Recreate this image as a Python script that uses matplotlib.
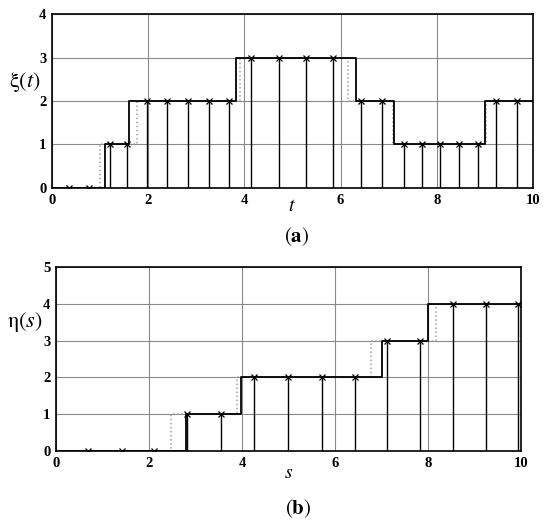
import matplotlib.pyplot as plt
import numpy as np

plt.rcParams['mathtext.fontset'] = 'stix'
plt.rcParams['font.family'] = 'Liberation Serif'

# (a) sampled process xi(t)
t_samp = [0.35, 0.78, 1.21, 1.57, 1.97, 2.40, 2.83, 3.26, 3.69, 4.13, 4.73,
          5.28, 5.85, 6.43, 6.86, 7.31, 7.69, 8.06, 8.47, 8.85, 9.24, 9.67]
xi_samp = [0, 0, 1, 1, 2, 2, 2, 2, 2, 3, 3, 3, 3, 2, 2, 1, 1, 1, 1, 1, 2, 2]
t_jump = [0, 1.11, 1.61, 3.82, 6.32, 7.12, 9.01, 10]
t_jump_est = [0, 0.99, 1.76, 3.91, 6.15, 7.08, 9.03, 10]
xi_lev = [0, 1, 2, 3, 2, 1, 2, 2]

# (b) sampled process eta(s)
s_samp = [0.69, 1.41, 2.11, 2.82, 3.54, 4.26, 4.99, 5.72, 6.43, 7.11, 7.83,
          8.54, 9.25, 9.94]
eta_samp = [0, 0, 0, 1, 1, 2, 2, 2, 2, 3, 3, 4, 4, 4]
s_jump = [0, 2.80, 3.98, 7.02, 8.0, 10]
s_jump_est = [0, 2.48, 3.90, 6.77, 8.18, 10]
eta_lev = [0, 1, 2, 3, 4, 4]


def draw(ax, xs, ys, xj, xj_est, lev, ymax):
    ax.step(xj_est, lev, where='post', color='#a0a0a0', lw=1.1, ls=':', zorder=3)
    ax.step(xj, lev, where='post', color='black', lw=1.3, zorder=4)
    ax.vlines(xs, 0, ys, color='black', lw=1.0, zorder=4)
    ax.plot(xs, ys, 'x', color='black', ms=4.5, mew=0.9, zorder=5)
    ax.set_xlim(0, 10)
    ax.set_ylim(0, ymax)
    ax.set_xticks(np.arange(0, 11, 2))
    ax.set_yticks(np.arange(0, ymax + 1))
    ax.grid(True, color='#8a8a8a', lw=0.8)
    ax.tick_params(length=0, pad=4, labelsize=10.5)
    for lab in ax.get_xticklabels() + ax.get_yticklabels():
        lab.set_fontweight('bold')
    for sp in ax.spines.values():
        sp.set_linewidth(1.2)


fig = plt.figure(figsize=(5.5, 5.31), dpi=100)
ax1 = fig.add_axes([0.0945, 0.646, 0.8745, 0.3276])
draw(ax1, t_samp, xi_samp, t_jump, t_jump_est, xi_lev, 4)
ax2 = fig.add_axes([0.102, 0.1507, 0.845, 0.3465])
draw(ax2, s_samp, eta_samp, s_jump, s_jump_est, eta_lev, 5)

fig.text(0.046, 0.846, r'$\mathrm{\xi}(t)$', fontsize=16, ha='center', va='center')
fig.text(0.531, 0.611, r'$t$', fontsize=14, ha='center', va='center')
fig.text(0.54, 0.554, r'$(\mathbf{a})$', fontsize=15, ha='center', va='center')
fig.text(0.046, 0.394, r'$\mathrm{\eta}(s)$', fontsize=16, ha='center', va='center')
fig.text(0.525, 0.109, r'$s$', fontsize=14, ha='center', va='center')
fig.text(0.542, 0.043, r'$(\mathbf{b})$', fontsize=15, ha='center', va='center')

fig.savefig('out.png', dpi=100)
